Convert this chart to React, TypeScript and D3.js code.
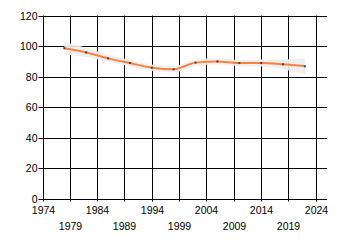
import React from "react";
import * as d3 from "d3";

const years = [1978, 1982, 1986, 1990, 1994, 1998, 2002, 2006, 2010, 2014, 2018, 2022];
const values = [98.6, 95.8, 91.9, 88.8, 85.8, 84.7, 89.1, 89.9, 88.8, 88.8, 88.0, 86.7];
const upper = [102.8, 98.8, 94.2, 90.8, 87.8, 86.7, 91.1, 91.9, 90.8, 91.1, 91.2, 91.9];
const lower = [94.4, 92.8, 89.6, 86.8, 83.8, 82.7, 87.1, 87.9, 86.8, 86.5, 84.8, 81.5];
const xTicks = [1974, 1979, 1984, 1989, 1994, 1999, 2004, 2009, 2014, 2019, 2024];
const yTicks = [0, 20, 40, 60, 80, 100, 120];

export default function App() {
  const W = 340, H = 245;
  const left = 42.5, right = 327, top = 15.5, bottom = 198.5;
  const x = d3.scaleLinear().domain([1974, 2024]).range([left, 315.8]);
  const y = d3.scaleLinear().domain([0, 120]).range([bottom, top]);
  const pts = years.map((yr, i) => ({ yr, v: values[i], lo: lower[i], hi: upper[i] }));
  const line = d3.line<any>().x(d => x(d.yr)).y(d => y(d.v)).curve(d3.curveMonotoneX);
  const area = d3.area<any>().x(d => x(d.yr)).y0(d => y(d.lo)).y1(d => y(d.hi)).curve(d3.curveMonotoneX);
  const font = "Liberation Sans, Arial, sans-serif";
  return (
    <svg width={W} height={H} style={{ position: "absolute", left: 0, top: 0, background: "#fff" }}>
      {yTicks.map(t => (
        <g key={"y" + t}>
          <line x1={left - 4} x2={right} y1={Math.round(y(t)) + 0.5} y2={Math.round(y(t)) + 0.5} stroke="#000" strokeWidth={1} />
          <text x={left - 5} y={Math.round(y(t)) + 0.5} dy="0.35em" textAnchor="end" fontFamily={font} fontSize={10.5} fill="#000">{t}</text>
        </g>
      ))}
      {xTicks.map((t, i) => (
        <g key={"x" + t}>
          <line x1={Math.round(x(t)) + 0.5} x2={Math.round(x(t)) + 0.5} y1={top} y2={bottom + 3} stroke="#000" strokeWidth={1} />
          <text x={Math.round(x(t)) + 0.5} y={i % 2 === 0 ? 214 : 230} textAnchor="middle" fontFamily={font} fontSize={10.5} fill="#000">{t}</text>
        </g>
      ))}
      <path d={area(pts) || ""} fill="#eeeeee" fillOpacity={0.92} />
      <path d={line(pts) || ""} fill="none" stroke="#ff7f3f" strokeWidth={2} />
      {pts.map(p => (
        <rect key={p.yr} x={x(p.yr) - 1} y={y(p.v) - 1} width={2} height={2} fill="#444" />
      ))}
    </svg>
  );
}
